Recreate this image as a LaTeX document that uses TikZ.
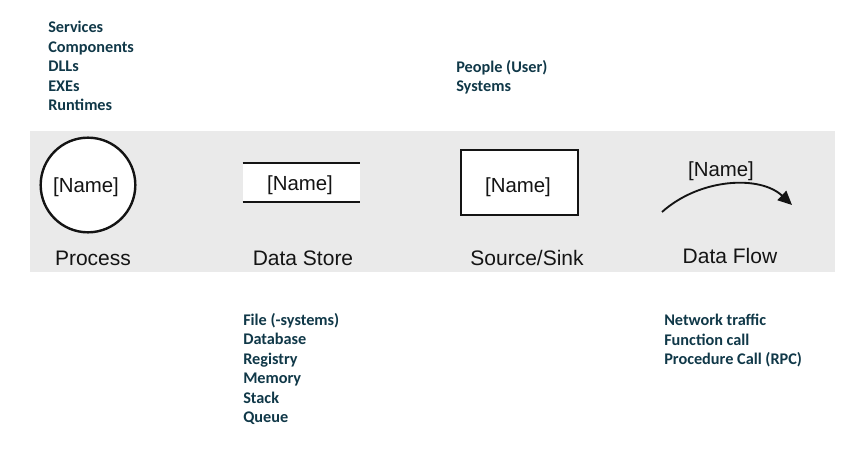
\documentclass[tikz,border=0pt]{standalone}
\usepackage{fontspec}
\setmainfont{Liberation Sans}
\newfontfamily\listfont{Carlito}
\usetikzlibrary{arrows.meta}
\definecolor{bandgrey}{RGB}{234,234,234}
\definecolor{listteal}{RGB}{16,56,72}
\definecolor{shapeink}{RGB}{20,20,20}

\begin{document}
\begin{tikzpicture}[x=0.75pt,y=-0.75pt,
   every node/.style={inner sep=0pt},
   list/.style={anchor=base west,align=left,text=listteal,
     font=\listfont\bfseries\fontsize{12.2}{14.6}\selectfont},
   symlabel/.style={text=shapeink,font=\fontsize{15.75}{18}\selectfont},
   namelabel/.style={text=shapeink,font=\fontsize{15.3}{18}\selectfont},
   heavy/.style={draw=shapeink,line width=1.8pt}]
\useasboundingbox (0,0) rectangle (855,459);
\fill[bandgrey] (30,131) rectangle (835,272);

% symbols
\node[heavy,circle,fill=white,minimum size=71pt] (proc) at (88,185) {};
\node[namelabel] (procname) at (86,187) {[Name]};
\node[fill=white,minimum width=87.75pt,minimum height=29.25pt] (store) at (301.5,182.5) {};
\draw[heavy,line width=1.6pt] (store.north west) -- (store.north east);
\draw[heavy,line width=1.6pt] (store.south west) -- (store.south east);
\node[namelabel] (storename) at (300,185) {[Name]};
\node[heavy,rectangle,fill=white,minimum width=87.75pt,minimum height=48.75pt] (sink) at (519.5,182.5) {};
\node[namelabel] (sinkname) at (518,187) {[Name]};
\coordinate (flowstart) at (662,212);
\coordinate (flowend) at (792,205);
\draw[shapeink,line width=1.4pt,-{Triangle[length=10.5pt,width=9.5pt]}]
   (flowstart) .. controls (700,178) and (760,175) .. (flowend);
\node[namelabel] (flowname) at (721,171) {[Name]};

% captions
\node[symlabel] (proccap) at (93,258) {Process};
\node[symlabel] (storecap) at (303,258) {Data Store};
\node[symlabel] (sinkcap) at (527,258) {Source/Sink};
\node[symlabel] (flowcap) at (730,256) {Data Flow};

% examples (base = last line)
\node[list] (proclist) at (48,110.5) {Services\\Components\\DLLs\\EXEs\\Runtimes};
\node[list] (sinklist) at (456,92) {People (User)\\Systems};
\node[list] (storelist) at (243,422.5) {File (-systems)\\Database\\Registry\\Memory\\Stack\\Queue};
\node[list] (flowlist) at (664,364.5) {Network traffic\\Function call\\Procedure Call (RPC)};
\end{tikzpicture}
\end{document}
